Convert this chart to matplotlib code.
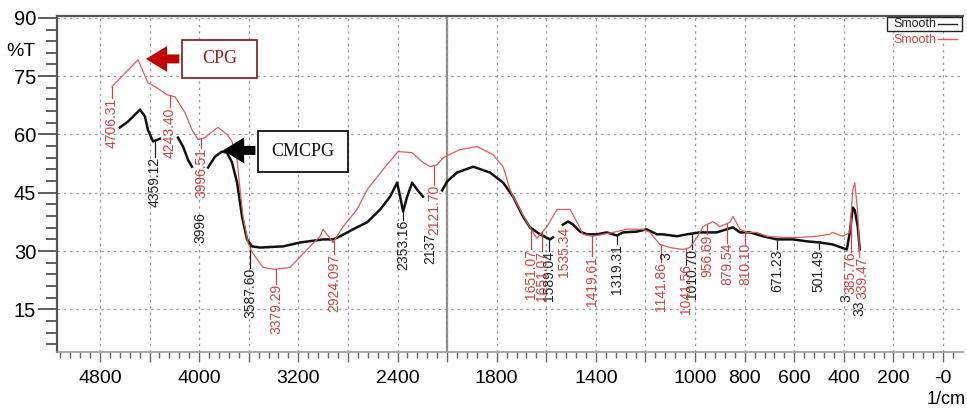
import numpy as np
import matplotlib.pyplot as plt
from matplotlib.patches import Rectangle
from matplotlib.lines import Line2D
from matplotlib.ticker import FixedLocator, FixedFormatter

plt.rcParams['font.family'] = ['Liberation Sans', 'DejaVu Sans']

nan = np.nan

# CPG spectrum (red)
cpg_wn = [4703, 4493, 4413, 4340, 4259, 4195, 4114, 4058, 4009, 3953, 3896, 3848,
          3775, 3735, 3694, 3670, 3646, 3606, 3573, 3485, 3388, 3267, 3129, 3025,
          3000, 2920, 2839, 2726, 2645, 2516, 2395, 2282, 2202, 2137, 2081, 2032,
          1976, 1948, 1879, 1815, 1774, 1746, 1734, 1706, 1678, 1654, 1638, 1597,
          1557, 1533, 1504, 1476, 1452, 1412, 1371, 1331, 1275, 1211, 1182, 1142,
          1101, 1049, 1021, 992, 968, 928, 900, 859, 847, 819, 791, 751, 710, 646,
          577, 509, 457, 445, 404, 376, 364, 356, 344, 336]
cpg_t = [72.3, 79.2, 73.3, 72.0, 70.2, 69.7, 65.6, 61.2, 58.7, 59.2, 60.7, 61.8,
         60.0, 58.2, 53.5, 45.8, 38.9, 32.2, 29.7, 25.8, 25.3, 25.8, 30.4, 33.8,
         35.6, 32.2, 36.3, 40.7, 45.8, 51.0, 55.6, 55.3, 53.0, 51.7, 52.2, 54.0,
         55.3, 56.1, 56.9, 54.8, 51.7, 45.8, 44.0, 40.7, 37.4, 34.8, 33.3, 36.3,
         40.7, 40.7, 40.7, 37.4, 34.3, 33.8, 34.3, 34.8, 35.6, 35.6, 34.8, 31.7,
         30.9, 30.4, 30.9, 33.5, 36.3, 37.6, 36.3, 37.4, 38.9, 35.6, 34.8, 34.8,
         33.8, 33.5, 33.5, 33.8, 34.3, 34.8, 33.8, 34.8, 45.8, 47.6, 39.9, 28.4]

# CMCPG spectrum (black), gaps where the trace is broken
cmc_wn = [4639, 4574, 4477, 4437, 4413, 4372, 4332, 4316, nan,
          4171, 4130, 4090, 4058, nan,
          3928, 3872, 3815, 3775, 3735, 3694, 3654, 3614, 3573, 3509, 3323, 3186,
          3000, 2920, 2863, 2758, 2645, 2540, 2460, 2403, 2379, 2355, 2322, 2282,
          2242, 2194, nan,
          2040, 2000, 1960, 1895, 1827, 1774, 1734, 1694, 1666, 1625, 1585, 1573, nan,
          1533, 1512, 1492, 1464, 1436, 1396, 1356, 1315, 1291, 1235, 1195, 1154,
          1130, 1073, 1033, 981, 913, 847, 819, 779, 726, 670, 606, 549, 497, 445,
          388, 376, 364, 356, 344, 336]
cmc_t = [61.8, 63.3, 66.4, 64.6, 61.2, 58.2, 58.7, 58.9, nan,
         59.2, 56.9, 53.5, 51.7, nan,
         51.5, 54.3, 55.6, 55.3, 52.8, 47.6, 38.9, 33.0, 31.2, 30.9, 31.2, 32.2,
         33.0, 33.0, 33.8, 35.6, 37.4, 40.7, 44.0, 47.6, 44.0, 40.2, 44.0, 47.6,
         45.8, 44.0, nan,
         45.6, 47.9, 50.2, 51.7, 50.2, 47.6, 44.0, 38.9, 36.1, 34.3, 33.0, 33.5, nan,
         36.8, 37.6, 36.8, 35.0, 34.3, 34.3, 34.8, 34.0, 34.8, 35.0, 35.6, 34.3,
         34.3, 33.8, 34.3, 34.8, 34.8, 36.1, 34.8, 34.8, 33.8, 33.0, 33.0, 32.5,
         32.2, 31.7, 30.4, 34.8, 41.2, 40.5, 36.3, 30.4]

# peak labels
cpg_lab = ["4706.31", "4243.40", "3996.51", "3379.29", "2924.097", "2121.70",
           "1651.07", "1651.07", "1535.34", "1419.61", "1141.86", "1041.56",
           "956.69", "879.54", "810.10", "385.76", "339.47"]
cpg_lab_wn = [4703, 4235, 3985, 3380, 2913, 2105, 1661, 1617, 1528, 1416, 1138,
              1037, 952, 871, 798, 372, 324]
cpg_lab_top = [69.5, 67.0, 56.6, 21.6, 29.3, 47.1, 30.6, 30.0, 36.1, 28.6, 27.1,
               26.6, 34.3, 32.2, 32.2, 29.8, 28.6]
cpg_leader = [1, 1, 1, 1, 1, 1, 1, 1, 0, 1, 1, 1, 1, 1, 1, 1, 0]

cmc_lab = ["4359.12", "3996", "3587.60", "2353.16", "2137", "1589.04", "1319.31",
           "3", "1010.70", "671.23", "501.49", "3", "33"]
cmc_lab_wn = [4356, 3993, 3590, 2355, 2137, 1591, 1315, 1116, 1011, 670, 501, 388, 336]
cmc_lab_top = [54.3, 39.9, 25.6, 38.0, 34.6, 29.9, 31.7, 29.7, 30.4, 30.4, 30.4,
               19.0, 17.2]
cmc_leader = [1, 0, 1, 1, 0, 1, 1, 0, 1, 1, 1, 0, 0]

RED = '#e05a5a'
RED_TXT = '#d0443f'


def fwd(x):
    x = np.asarray(x, dtype=float)
    return np.where(x > 2000, 2000 + (x - 2000) / 2.0, x)


def inv(x):
    x = np.asarray(x, dtype=float)
    return np.where(x > 2000, 2000 + (x - 2000) * 2.0, x)


fig = plt.figure(figsize=(9.67, 4.08), dpi=100)
ax = fig.add_axes([0.059, 0.137, 0.937, 0.824])
ax.set_xscale('function', functions=(fwd, inv))
ax.set_xlim(5146, -81)
ax.set_ylim(4, 90.5)

# ticks
major_x = [4800, 4400, 4000, 3600, 3200, 2800, 2400, 2000, 1800, 1600, 1400, 1200,
           1000, 800, 600, 400, 200, 0]
x_labels = ['4800', '', '4000', '', '3200', '', '2400', '', '1800', '', '1400', '',
            '1000', '800', '600', '400', '200', '-0']
minor_x = list(np.arange(5120, 2000, -80)) + list(np.arange(1960, -80, -40))
ax.xaxis.set_major_locator(FixedLocator(major_x))
ax.xaxis.set_major_formatter(FixedFormatter(x_labels))
ax.xaxis.set_minor_locator(FixedLocator(minor_x))
ax.set_yticks([15, 30, 45, 60, 75, 90])
ax.set_yticks(np.arange(6, 90, 3), minor=True)
ax.tick_params(axis='x', which='major', length=7, width=1, color='#666666',
               labelsize=14, pad=6)
ax.tick_params(axis='x', which='minor', length=4, width=1, color='#666666')
ax.tick_params(axis='y', which='major', length=14, width=1.2, color='#444444',
               labelsize=14.5, pad=1)
ax.tick_params(axis='y', which='minor', length=8, width=1.2, color='#444444')

for s in ['left', 'top']:
    ax.spines[s].set_color('#555555')
    ax.spines[s].set_linewidth(1.6)
ax.spines['bottom'].set_color('#999999')
ax.spines['bottom'].set_linewidth(1.2)
ax.spines['right'].set_visible(False)

ax.grid(True, which='major', color='#9a9a9a', linestyle=(0, (2, 3)), linewidth=0.9)
ax.axvline(2000, color='#8c8c8c', linewidth=1.6, zorder=1)

ax.plot(cmc_wn, cmc_t, color='#111111', linewidth=1.8, zorder=3)
ax.plot(cpg_wn, cpg_t, color=RED, linewidth=0.9, zorder=4)


def curve_at(wn_list, t_list, w):
    wn = np.array(wn_list, dtype=float)
    t = np.array(t_list, dtype=float)
    ok = ~np.isnan(wn)
    return np.interp(w, wn[ok][::-1], t[ok][::-1])


for txt, w, top, lead in zip(cmc_lab, cmc_lab_wn, cmc_lab_top, cmc_leader):
    if lead:
        ax.plot([w, w], [curve_at(cmc_wn, cmc_t, w), top], color='#222222',
                linewidth=0.9, zorder=3)
    ax.text(w, top, txt, rotation=90, ha='center', va='top', fontsize=10,
            color='#222222', zorder=5)

for txt, w, top, lead in zip(cpg_lab, cpg_lab_wn, cpg_lab_top, cpg_leader):
    if lead:
        ax.plot([w, w], [curve_at(cpg_wn, cpg_t, w), top], color=RED_TXT,
                linewidth=0.9, zorder=4)
    ax.text(w, top, txt, rotation=90, ha='center', va='top', fontsize=10,
            color=RED_TXT, zorder=6)

# sample callouts
ax.add_patch(Rectangle((0.138, 0.815), 0.083, 0.114, transform=ax.transAxes,
                       facecolor='white', edgecolor='#8b2a2a', linewidth=1.3, zorder=7))
ax.text(0.1795, 0.872, 'CPG', transform=ax.transAxes, ha='center', va='center',
        fontsize=13, family='Liberation Serif', color='#a02020', zorder=8)
ax.annotate('', xy=(0.095, 0.872), xytext=(0.138, 0.872), xycoords='axes fraction',
            arrowprops=dict(arrowstyle='simple,head_length=0.9,head_width=1.1,tail_width=0.38',
                            mutation_scale=17, color='#c00000', lw=0), zorder=8)

ax.add_patch(Rectangle((0.222, 0.536), 0.099, 0.122, transform=ax.transAxes,
                       facecolor='white', edgecolor='#111111', linewidth=1.3, zorder=7))
ax.text(0.2715, 0.597, 'CMCPG', transform=ax.transAxes, ha='center', va='center',
        fontsize=13, family='Liberation Serif', color='#111111', zorder=8)
ax.annotate('', xy=(0.180, 0.6), xytext=(0.222, 0.6), xycoords='axes fraction',
            arrowprops=dict(arrowstyle='simple,head_length=0.9,head_width=1.1,tail_width=0.38',
                            mutation_scale=17, color='#000000', lw=0), zorder=8)

# legend
fig.add_artist(Rectangle((0.917, 0.924), 0.0776, 0.0343, transform=fig.transFigure,
                         facecolor='white', edgecolor='#222222', linewidth=1.0, zorder=9))
fig.text(0.9235, 0.941, 'Smooth', fontsize=9, color='#222222', va='center', zorder=10)
fig.add_artist(Line2D([0.970, 0.990], [0.941, 0.941], transform=fig.transFigure,
                      color='#222222', linewidth=1.0, zorder=10))
fig.text(0.9235, 0.902, 'Smooth', fontsize=9, color=RED_TXT, va='center', zorder=10)
fig.add_artist(Line2D([0.970, 0.990], [0.904, 0.904], transform=fig.transFigure,
                      color=RED, linewidth=1.0, zorder=10))

fig.text(0.022, 0.875, '%T', fontsize=14, va='center', ha='center')
fig.text(0.978, 0.02, '1/cm', fontsize=13, va='center', ha='center')

fig.savefig('out.png', dpi=100)
